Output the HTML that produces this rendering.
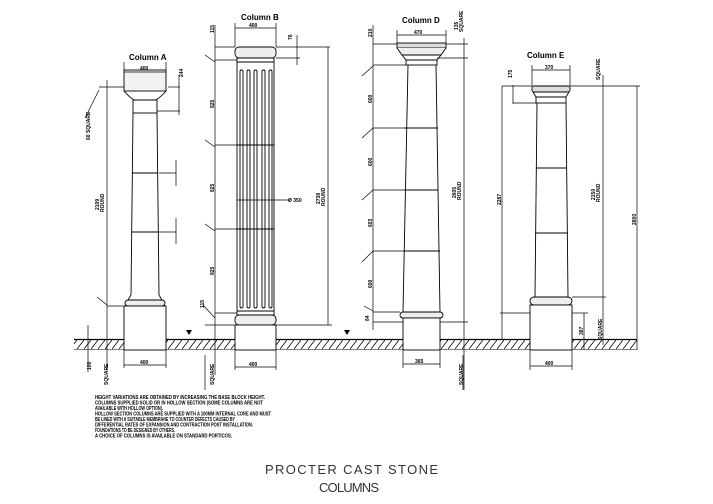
<!DOCTYPE html>
<html><head><meta charset="utf-8"><style>
html,body{margin:0;padding:0;background:#fff;}
svg{display:block;}
text{font-family:"Liberation Sans",sans-serif;}
.t{font-weight:bold;font-size:8px;}
.d{font-weight:bold;font-size:5px;}
</style></head><body>
<svg width="713" height="504" viewBox="0 0 713 504" xmlns="http://www.w3.org/2000/svg">
<defs>
<pattern id="h" width="7" height="9" patternUnits="userSpaceOnUse" y="340">
<line x1="0" y1="9" x2="7" y2="0" stroke="#000" stroke-width="0.8"/>
</pattern>
</defs>
<rect x="74" y="340" width="563" height="9" fill="url(#h)"/>
<line x1="74" y1="339.5" x2="637" y2="339.5" stroke="#000" stroke-width="1.2"/>
<line x1="74" y1="349.5" x2="637" y2="349.5" stroke="#000" stroke-width="0.6"/>

<g fill="none" stroke="#000" stroke-width="0.9">
<rect x="124" y="70" width="42" height="21" fill="#f2f2f2"/>
<path d="M124 91 Q128 96 134 100 L156 100 Q162 96 166 91"/>
<rect x="133" y="100" width="24" height="13"/>
<path d="M133 113 L131 295 M157 113 L159 295"/>
<path d="M131 295 L128 300 L162 300 L159 295"/>
<rect x="125" y="300" width="40" height="6" rx="3" fill="#eee"/>
<rect x="124" y="306" width="42" height="44" fill="#fff"/>
<line x1="132" y1="173" x2="158" y2="173"/><line x1="132" y1="232" x2="158" y2="232"/>
<rect x="235" y="47" width="41" height="11" rx="4" fill="#eee"/>
<rect x="237" y="58" width="37" height="257"/>
<line x1="237" y1="62" x2="274" y2="62"/><line x1="237" y1="311" x2="274" y2="311"/>
<rect x="240" y="70" width="3" height="238" rx="1.5"/><rect x="247" y="70" width="3" height="238" rx="1.5"/>
<rect x="254" y="70" width="3" height="238" rx="1.5"/><rect x="262" y="70" width="3" height="238" rx="1.5"/>
<rect x="269" y="70" width="3" height="238" rx="1.5"/>
<rect x="235" y="315" width="41" height="10" rx="4" fill="#eee"/>
<rect x="235" y="325" width="41" height="25" fill="#fff"/>
<line x1="237" y1="145" x2="274" y2="145"/><line x1="237" y1="229" x2="274" y2="229"/>
<rect x="397" y="43" width="49" height="5" fill="#ddd"/>
<path d="M397 48 L402 55 L441 55 L446 48" fill="#eee"/>
<path d="M402 55 L406 60 L437 60 L441 55"/>
<rect x="406" y="60" width="31" height="5"/>
<path d="M408 65 L403 312 M436 65 L440 312"/>
<rect x="400" y="312" width="43" height="6" rx="3" fill="#eee"/>
<rect x="403" y="318" width="37" height="32" fill="#fff"/>
<line x1="404" y1="128" x2="438" y2="128"/><line x1="404" y1="190" x2="438" y2="190"/><line x1="403" y1="251" x2="440" y2="251"/>
<rect x="532" y="86" width="38" height="6" rx="2" fill="#ddd"/>
<path d="M533 92 L536 97 L566 97 L569 92"/>
<rect x="536" y="97" width="30" height="6"/>
<path d="M537 103 L535 297 M566 103 L568 297"/>
<rect x="530" y="297" width="42" height="8" rx="4" fill="#eee"/>
<rect x="530" y="305" width="42" height="45" fill="#fff"/>
<line x1="536" y1="168" x2="567" y2="168"/><line x1="535" y1="233" x2="568" y2="233"/>
</g>

<g fill="none" stroke="#000" stroke-width="0.7">
<line x1="107" y1="80" x2="107" y2="370"/>
<line x1="99" y1="87" x2="124" y2="87"/><line x1="107" y1="306" x2="124" y2="306"/>
<line x1="168" y1="87" x2="180" y2="87"/><line x1="157" y1="111" x2="180" y2="111"/><line x1="179" y1="75" x2="179" y2="115"/>
<line x1="124" y1="72" x2="166" y2="72"/><line x1="124" y1="62" x2="124" y2="70"/><line x1="166" y1="62" x2="166" y2="70"/>
<line x1="124" y1="365" x2="166" y2="365"/><line x1="124" y1="350" x2="124" y2="368"/><line x1="166" y1="350" x2="166" y2="368"/>
<line x1="88" y1="325" x2="88" y2="372"/>
<line x1="159" y1="173" x2="176" y2="173"/><line x1="176" y1="160" x2="176" y2="186"/>
<line x1="159" y1="232" x2="176" y2="232"/><line x1="176" y1="218" x2="176" y2="244"/>
<path d="M85 118 L99 90"/><path d="M97 297 L107 305"/>
<line x1="215" y1="25" x2="215" y2="375"/>
<line x1="215" y1="47" x2="235" y2="47"/><line x1="215" y1="60" x2="237" y2="60"/>
<line x1="215" y1="145" x2="237" y2="145"/><line x1="215" y1="229" x2="237" y2="229"/>
<line x1="215" y1="313" x2="237" y2="313"/><line x1="205" y1="325" x2="235" y2="325"/>
<line x1="235" y1="28" x2="276" y2="28"/><line x1="235" y1="23" x2="235" y2="47"/><line x1="276" y1="23" x2="276" y2="47"/>
<line x1="276" y1="47" x2="330" y2="47"/><line x1="276" y1="58" x2="300" y2="58"/><line x1="297" y1="35" x2="297" y2="65"/>
<line x1="328" y1="47" x2="328" y2="325"/><line x1="276" y1="325" x2="332" y2="325"/>
<line x1="237" y1="200" x2="290" y2="200"/>
<line x1="235" y1="367" x2="276" y2="367"/><line x1="235" y1="350" x2="235" y2="370"/><line x1="276" y1="350" x2="276" y2="370"/>
<path d="M205 55 L215 62"/><path d="M205 140 L215 147"/><path d="M205 224 L215 231"/><path d="M203 305 L215 318"/>
<line x1="373" y1="25" x2="373" y2="330"/>
<line x1="373" y1="44" x2="397" y2="44"/><line x1="373" y1="65" x2="406" y2="65"/>
<line x1="373" y1="128" x2="404" y2="128"/><line x1="373" y1="190" x2="404" y2="190"/><line x1="373" y1="251" x2="403" y2="251"/>
<line x1="373" y1="312" x2="400" y2="312"/><line x1="373" y1="322" x2="403" y2="322"/>
<line x1="397" y1="35" x2="446" y2="35"/><line x1="397" y1="30" x2="397" y2="43"/><line x1="446" y1="30" x2="446" y2="43"/>
<line x1="464" y1="38" x2="464" y2="390"/><line x1="446" y1="44" x2="468" y2="44"/><line x1="437" y1="58" x2="468" y2="58"/><line x1="440" y1="322" x2="468" y2="322"/>
<line x1="403" y1="364" x2="440" y2="364"/><line x1="403" y1="350" x2="403" y2="368"/><line x1="440" y1="350" x2="440" y2="368"/>
<path d="M362 76 L373 66"/><path d="M362 138 L373 128"/><path d="M362 200 L373 190"/><path d="M362 262 L373 251"/><path d="M364 306 L373 311"/>
<line x1="502" y1="86" x2="502" y2="340"/><line x1="502" y1="86" x2="532" y2="86"/>
<line x1="513" y1="85" x2="513" y2="104"/><line x1="513" y1="103" x2="536" y2="103"/>
<line x1="500" y1="313" x2="530" y2="313"/>
<line x1="532" y1="70" x2="570" y2="70"/><line x1="532" y1="65" x2="532" y2="86"/><line x1="570" y1="65" x2="570" y2="86"/>
<line x1="570" y1="86" x2="640" y2="86"/><line x1="603" y1="75" x2="603" y2="345"/><line x1="572" y1="297" x2="606" y2="297"/>
<line x1="637" y1="86" x2="637" y2="350"/>
<line x1="584" y1="313" x2="584" y2="350"/><line x1="572" y1="313" x2="588" y2="313"/>
<line x1="530" y1="366" x2="572" y2="366"/><line x1="530" y1="350" x2="530" y2="370"/><line x1="572" y1="350" x2="572" y2="370"/>
<line x1="463" y1="355" x2="463" y2="390"/><line x1="205" y1="355" x2="205" y2="390"/>
</g>
<g fill="#000">
<path d="M186 330 L192 330 L189 335 Z"/><path d="M344 330 L350 330 L347 335 Z"/>
</g>

<g>
<text class="t" x="129" y="60">Column A</text>
<text class="t" x="241" y="20">Column B</text>
<text class="t" x="402" y="23">Column D</text>
<text class="t" x="527" y="58">Column E</text>
</g>
<g>
<text class="d" x="140" y="70">400</text><text class="d" x="140" y="364">400</text>
<text class="d" x="249" y="27">400</text><text class="d" x="249" y="366">400</text>
<text class="d" x="414" y="34">470</text><text class="d" x="415" y="363">365</text>
<text class="d" x="545" y="69">370</text><text class="d" x="545" y="365">400</text>
<text class="d" x="288" y="202">Ø 350</text>
<text class="d" transform="translate(183,77) rotate(-90)">244</text>
<text class="d" transform="translate(90,140) rotate(-90)">60 SQUARE</text>
<text class="d" transform="translate(99,210) rotate(-90)">2109</text>
<text class="d" transform="translate(104,212) rotate(-90)">ROUND</text>
<text class="d" transform="translate(91,370) rotate(-90)">100</text>
<text class="d" transform="translate(108,385) rotate(-90)">SQUARE</text>
<text class="d" transform="translate(214,33) rotate(-90)">115</text>
<text class="d" transform="translate(292,40) rotate(-90)">76</text>
<text class="d" transform="translate(214,108) rotate(-90)">825</text>
<text class="d" transform="translate(214,192) rotate(-90)">825</text>
<text class="d" transform="translate(214,275) rotate(-90)">825</text>
<text class="d" transform="translate(204,308) rotate(-90)">115</text>
<text class="d" transform="translate(320,204) rotate(-90)">2738</text>
<text class="d" transform="translate(325,206) rotate(-90)">ROUND</text>
<text class="d" transform="translate(214,385) rotate(-90)">SQUARE</text>
<text class="d" transform="translate(372,37) rotate(-90)">210</text>
<text class="d" transform="translate(458,30) rotate(-90)">135</text>
<text class="d" transform="translate(463,32) rotate(-90)">SQUARE</text>
<text class="d" transform="translate(372,103) rotate(-90)">600</text>
<text class="d" transform="translate(372,166) rotate(-90)">600</text>
<text class="d" transform="translate(372,227) rotate(-90)">603</text>
<text class="d" transform="translate(372,288) rotate(-90)">600</text>
<text class="d" transform="translate(369,321) rotate(-90)">84</text>
<text class="d" transform="translate(456,198) rotate(-90)">2605</text>
<text class="d" transform="translate(461,200) rotate(-90)">ROUND</text>
<text class="d" transform="translate(463,385) rotate(-90)">SQUARE</text>
<text class="d" transform="translate(512,78) rotate(-90)">175</text>
<text class="d" transform="translate(600,80) rotate(-90)">SQUARE</text>
<text class="d" transform="translate(501,205) rotate(-90)">2287</text>
<text class="d" transform="translate(595,200) rotate(-90)">2150</text>
<text class="d" transform="translate(600,202) rotate(-90)">ROUND</text>
<text class="d" transform="translate(636,225) rotate(-90)">2800</text>
<text class="d" transform="translate(583,335) rotate(-90)">387</text>
<text class="d" transform="translate(602,340) rotate(-90)">SQUARE</text>
</g>
<g>
<text class="d" x="95" y="399" textLength="170" lengthAdjust="spacingAndGlyphs">HEIGHT VARIATIONS ARE OBTAINED BY INCREASING THE BASE BLOCK HEIGHT.</text>
<text class="d" x="95" y="404.5" textLength="168" lengthAdjust="spacingAndGlyphs">COLUMNS SUPPLIED SOLID OR IN HOLLOW SECTION (SOME COLUMNS ARE NOT</text>
<text class="d" x="95" y="410" textLength="68" lengthAdjust="spacingAndGlyphs">AVAILABLE WITH HOLLOW OPTION).</text>
<text class="d" x="95" y="415.5" textLength="176" lengthAdjust="spacingAndGlyphs">HOLLOW SECTION COLUMNS ARE SUPPLIED WITH A 100MM INTERNAL CORE AND MUST</text>
<text class="d" x="95" y="421" textLength="140" lengthAdjust="spacingAndGlyphs">BE LINED WITH A SUITABLE MEMBRANE TO COUNTER DEFECTS CAUSED BY</text>
<text class="d" x="95" y="426.5" textLength="158" lengthAdjust="spacingAndGlyphs">DIFFERENTIAL RATES OF EXPANSION AND CONTRACTION POST INSTALLATION.</text>
<text class="d" x="95" y="432" textLength="80" lengthAdjust="spacingAndGlyphs">FOUNDATIONS TO BE DESIGNED BY OTHERS.</text>
<text class="d" x="95" y="437.5" textLength="137" lengthAdjust="spacingAndGlyphs">A CHOICE OF COLUMNS IS AVAILABLE ON STANDARD PORTICOS.</text>
</g>
<text x="265" y="474" font-size="13" textLength="173" lengthAdjust="spacing" fill="#333" font-weight="normal" style="font-weight:300">PROCTER CAST STONE</text>
<text x="319" y="492" font-size="13" textLength="60" lengthAdjust="spacing" fill="#333">COLUMNS</text>
</svg>
</body></html>
